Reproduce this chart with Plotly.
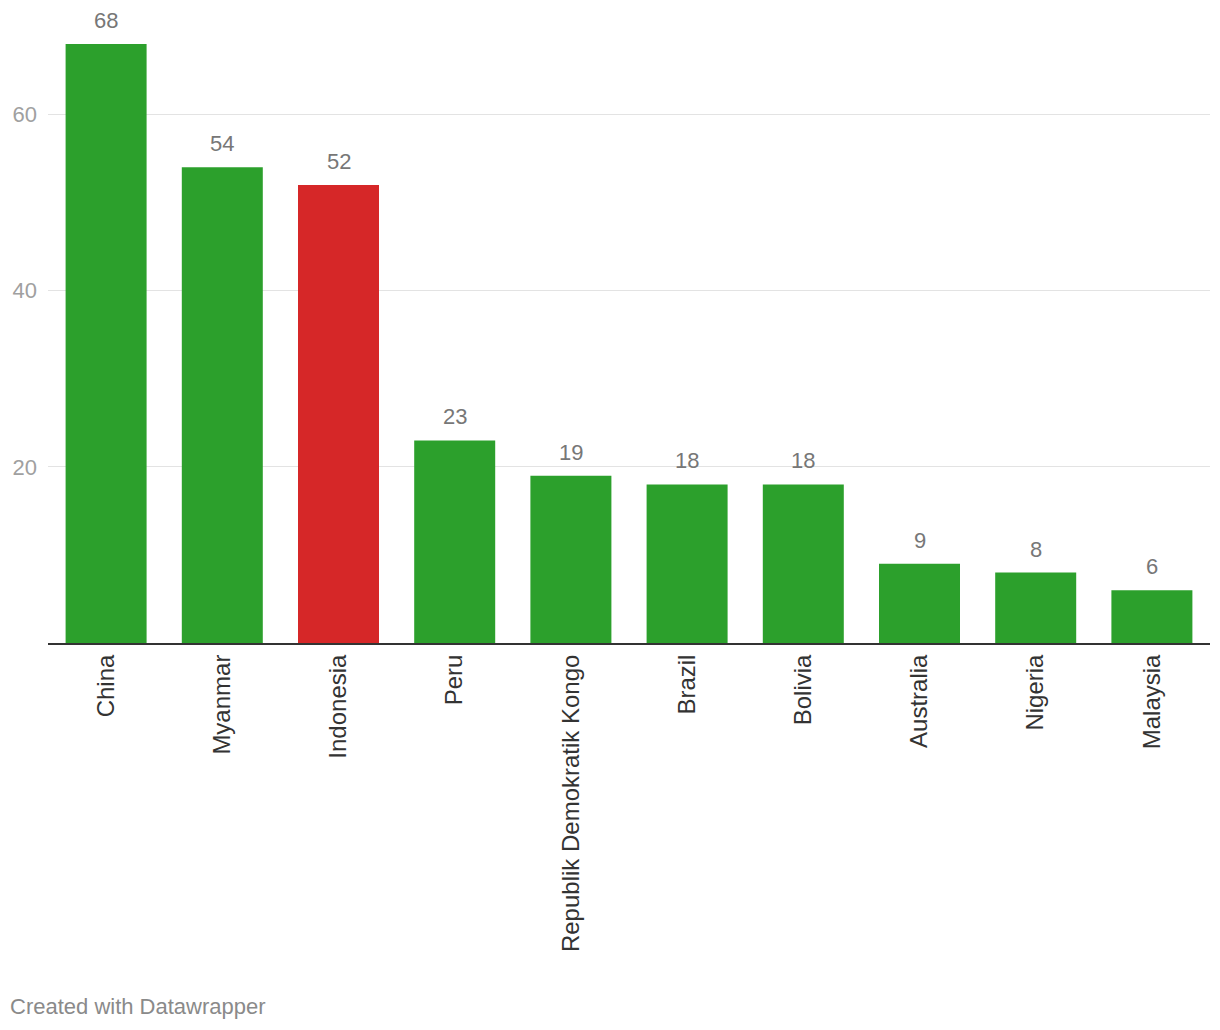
import plotly.graph_objects as go

countries = ["China", "Myanmar", "Indonesia", "Peru", "Republik Demokratik Kongo",
             "Brazil", "Bolivia", "Australia", "Nigeria", "Malaysia"]
values = [68, 54, 52, 23, 19, 18, 18, 9, 8, 6]
highlight = ["Indonesia"]
tick_vals = [20, 40, 60]

GREEN = "#2ca02c"
RED = "#d62728"
FONT = "Liberation Sans, Arial, sans-serif"

colors = [RED if c in highlight else GREEN for c in countries]

fig = go.Figure()
fig.add_trace(go.Bar(
    x=countries, y=values, marker=dict(color=colors, line=dict(width=0)),
    hoverinfo="skip",
))

for c, v in zip(countries, values):
    fig.add_annotation(x=c, y=v, text=str(v), showarrow=False,
                       yanchor="bottom", yshift=9,
                       font=dict(family=FONT, size=22, color="#777777"))

fig.add_annotation(x=0, y=0, xref="paper", yref="paper", xanchor="left", yanchor="middle",
                   text="Created with Datawrapper", showarrow=False,
                   xshift=-40, yshift=-363,
                   font=dict(family=FONT, size=22, color="#8a8a8a"))

fig.update_layout(
    width=1212, height=1022,
    margin=dict(l=40, r=10, t=36, b=387, autoexpand=False),
    plot_bgcolor="white", paper_bgcolor="white",
    bargap=0.303, showlegend=False,
    font=dict(family=FONT),
)
fig.update_xaxes(
    tickangle=-90, tickfont=dict(family=FONT, size=24, color="#333333"),
    showline=True, linecolor="#333333", linewidth=2, ticks="", showgrid=False,
    ticklabelstandoff=0, automargin=False,
)
fig.update_yaxes(
    range=[0, 68], tickvals=tick_vals, showgrid=True, gridcolor="#e3e3e3", gridwidth=1,
    zeroline=False, showline=False, ticks="", automargin=False,
    tickfont=dict(family=FONT, size=22, color="#a0a0a0"), ticklabelstandoff=10,
)

fig.write_html("out.html")
